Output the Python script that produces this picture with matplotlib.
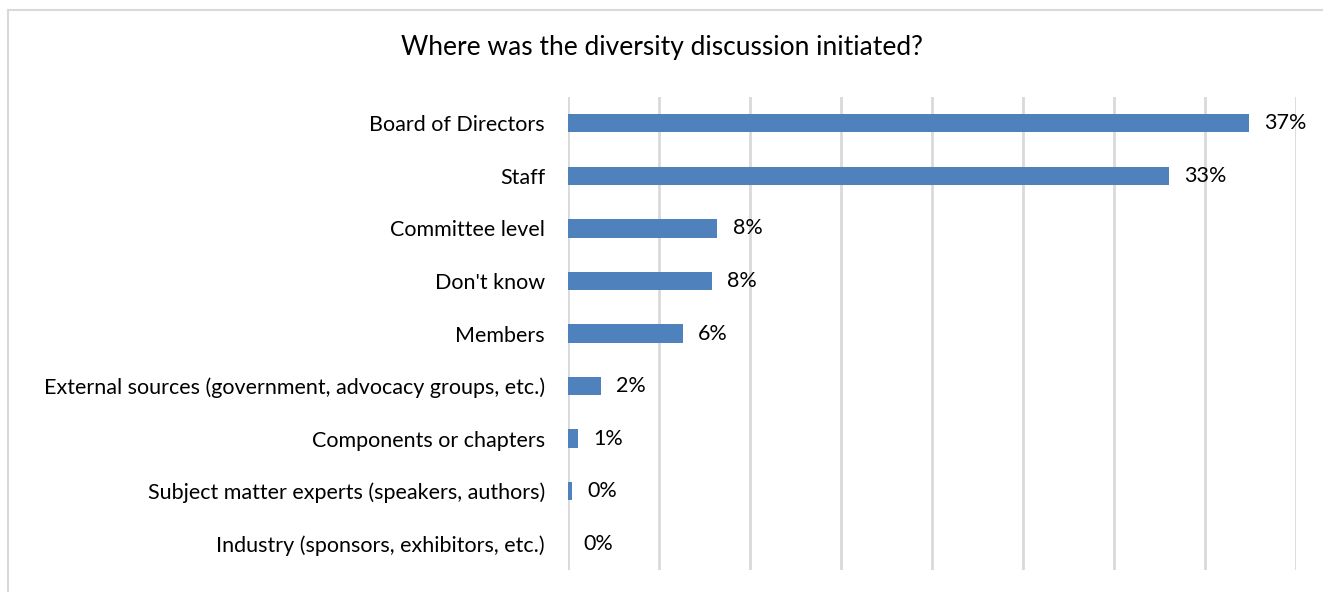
import matplotlib.pyplot as plt
from matplotlib.lines import Line2D

# survey responses, share of respondents (%)
categories = [
    'Board of Directors',
    'Staff',
    'Committee level',
    "Don't know",
    'Members',
    'External sources (government, advocacy groups, etc.)',
    'Components or chapters',
    'Subject matter experts (speakers, authors)',
    'Industry (sponsors, exhibitors, etc.)',
]
shares = [37.4, 33.0, 8.2, 7.9, 6.3, 1.8, 0.55, 0.2, 0.0]
x_ticks = [0, 5, 10, 15, 20, 25, 30, 35, 40]

plt.rcParams['font.family'] = ['Lato', 'DejaVu Sans']

W, H = 1323, 592
fig = plt.figure(figsize=(W / 100, H / 100), dpi=100)
ax = fig.add_axes([568 / W, 1 - 570 / H, (1296 - 568) / W, (570 - 97) / H])

# light frame along the top and left of the chart area
fx, fy = 7.5 / W, 1 - 9.5 / H
for xs, ys in [([fx, 1.0], [fy, fy]), ([fx, fx], [0.0, fy])]:
    fig.add_artist(Line2D(xs, ys, transform=fig.transFigure,
                          color='#d9d9d9', linewidth=1.5))

pos = list(range(len(categories)))
ax.barh(pos, shares, height=0.35, color='#4f81bd', zorder=3)
for y, v in zip(pos, shares):
    ax.text(v + 0.85, y, f'{v:.0f}%', va='center', ha='left', fontsize=15.5, color='black')

ax.set_xlim(0, 40)
ax.set_ylim(len(categories) - 0.5, -0.5)
ax.set_xticks(x_ticks)
ax.set_xticklabels([])
ax.set_yticks(pos)
ax.set_yticklabels(categories, fontsize=15.5)
ax.tick_params(axis='both', length=0)
ax.tick_params(axis='y', pad=16.5)
ax.grid(axis='x', color='#d9d9d9', linewidth=2, zorder=0)
for s in ax.spines.values():
    s.set_visible(False)

fig.text(0.5, 1 - 47 / H, 'Where was the diversity discussion initiated?',
         ha='center', va='center', fontsize=19)

fig.savefig('out.png', dpi=100)
